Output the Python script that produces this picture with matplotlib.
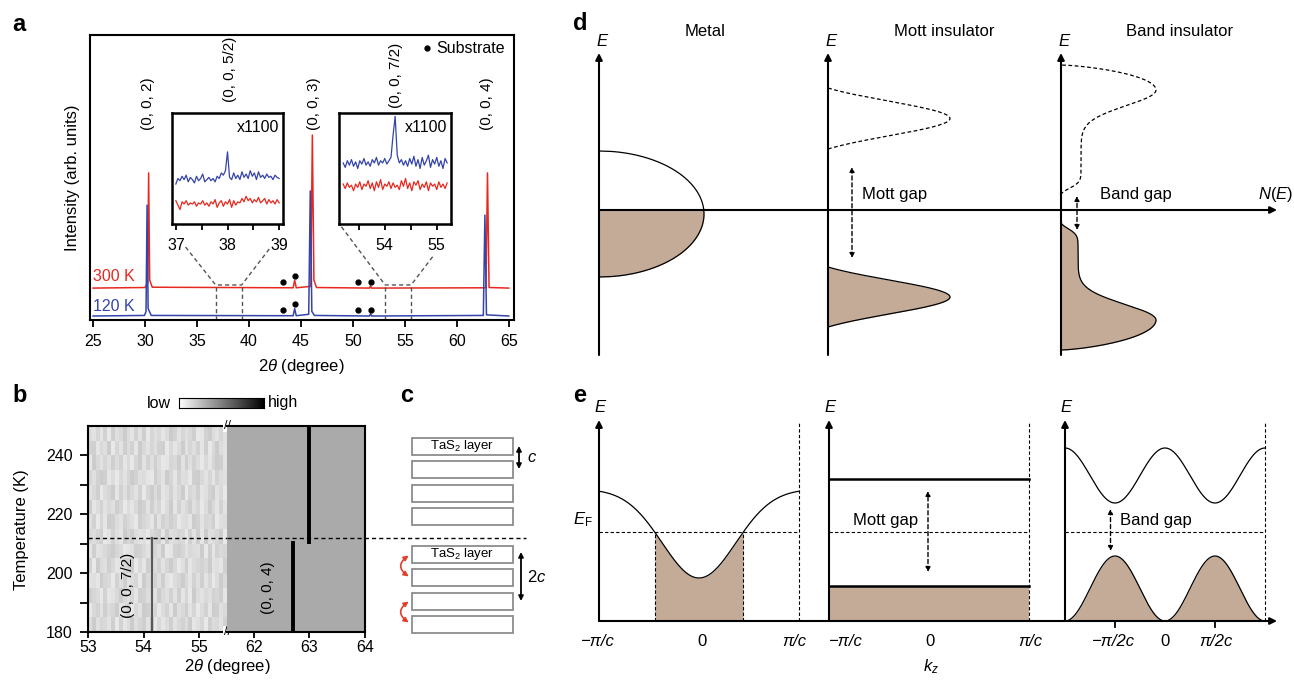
import numpy as np
import matplotlib
matplotlib.use('Agg')
import matplotlib.pyplot as plt
from matplotlib.patches import Rectangle, FancyArrowPatch

W, H = 1294, 689

plt.rcParams['font.family'] = ['Liberation Sans', 'DejaVu Sans']
plt.rcParams['mathtext.fontset'] = 'custom'
plt.rcParams['mathtext.rm'] = 'Liberation Sans'
plt.rcParams['mathtext.it'] = 'Liberation Sans:italic'
plt.rcParams['mathtext.bf'] = 'Liberation Sans:bold'

NS = 12          # text size of the schematic panels d and e
RED = '#e8281e'
BLUE = '#3444aa'
TAN = '#c3ab98'

# ---------------- data ----------------
# a: XRD scans (2theta in degree, normalised intensity)
red_x = [25.0, 30.0, 30.25, 30.35, 30.45, 30.7, 44.25, 44.4, 44.55, 45.95, 46.1,
         46.25, 46.5, 51.6, 51.7, 51.8, 62.8, 62.95, 63.1, 65.0]
red_y = [0.112, 0.114, 0.13, 0.516, 0.14, 0.115, 0.113, 0.14, 0.113, 0.118, 0.649,
         0.14, 0.114, 0.112, 0.12, 0.112, 0.113, 0.516, 0.114, 0.112]
blue_x = [25.0, 29.95, 30.1, 30.2, 30.3, 30.6, 44.25, 44.4, 44.55, 45.75, 45.9,
          46.05, 46.3, 51.6, 51.7, 51.8, 62.55, 62.7, 62.85, 65.0]
blue_y = [0.014, 0.016, 0.03, 0.403, 0.04, 0.016, 0.015, 0.04, 0.015, 0.02, 0.453,
          0.03, 0.016, 0.014, 0.022, 0.014, 0.016, 0.368, 0.018, 0.014]
peak_labels = ['(0, 0, 2)', '(0, 0, 5/2)', '(0, 0, 3)', '(0, 0, 7/2)', '(0, 0, 4)']
peak_label_x = [30.3, 38.2, 46.3, 54.1, 62.9]
peak_label_y = [0.76, 0.88, 0.76, 0.86, 0.76]
subs_x = [43.3, 44.4, 50.5, 51.7]
subs_dy = [0.021, 0.042, 0.021, 0.021]

# insets (x1100), 37-39 and 53.2-55.2 degree
in1_blue = [0.36, 0.41, 0.39, 0.43, 0.40, 0.44, 0.38, 0.42, 0.40, 0.37, 0.43, 0.39, 0.41,
            0.45, 0.38, 0.40, 0.42, 0.39, 0.41, 0.38, 0.43, 0.41, 0.46, 0.44, 0.48, 0.65,
            0.42, 0.40, 0.46, 0.41, 0.44, 0.40, 0.47, 0.42, 0.45, 0.41, 0.48, 0.43, 0.46,
            0.40, 0.47, 0.42, 0.44, 0.41, 0.45, 0.42, 0.43, 0.40, 0.44, 0.42, 0.41]
in1_red = [0.21, 0.17, 0.13, 0.20, 0.18, 0.21, 0.17, 0.19, 0.18, 0.20, 0.16, 0.19, 0.18,
           0.21, 0.17, 0.19, 0.16, 0.20, 0.18, 0.22, 0.15, 0.19, 0.21, 0.16, 0.20, 0.18,
           0.22, 0.15, 0.21, 0.17, 0.20, 0.19, 0.23, 0.20, 0.25, 0.21, 0.23, 0.19, 0.22,
           0.20, 0.24, 0.19, 0.21, 0.23, 0.18, 0.22, 0.19, 0.21, 0.18, 0.22, 0.19]
in2_blue = [0.55, 0.51, 0.57, 0.53, 0.58, 0.52, 0.56, 0.50, 0.57, 0.54, 0.59, 0.53, 0.56,
            0.52, 0.58, 0.55, 0.60, 0.53, 0.57, 0.55, 0.59, 0.54, 0.57, 0.60, 0.80, 0.97,
            0.62, 0.55, 0.58, 0.53, 0.57, 0.52, 0.59, 0.54, 0.61, 0.52, 0.58, 0.50, 0.60,
            0.53, 0.57, 0.62, 0.51, 0.58, 0.54, 0.60, 0.52, 0.57, 0.50, 0.59, 0.55]
in2_red = [0.36, 0.32, 0.37, 0.33, 0.35, 0.30, 0.36, 0.33, 0.38, 0.31, 0.36, 0.34, 0.39,
           0.32, 0.37, 0.30, 0.38, 0.33, 0.40, 0.31, 0.36, 0.34, 0.38, 0.32, 0.37, 0.33,
           0.35, 0.31, 0.39, 0.34, 0.41, 0.32, 0.37, 0.30, 0.38, 0.35, 0.39, 0.31, 0.36,
           0.33, 0.38, 0.30, 0.37, 0.34, 0.36, 0.31, 0.38, 0.33, 0.36, 0.32, 0.37]

# b: temperature map; background noise of the 53-55.5 window (digit = grey level)
hm_left_rows = [
    "506347192850631729485174250863915472",
    "942715308629470183952806417395280164",
    "135928740463812597046271839057462318",
    "768034926175390482617953048261739504",
    "290561487320948165273049618532407681",
    "817642035986124753609821374560918243",
    "453197268031576942180653492718065319",
    "629380157246913580724139658027341965",
    "085274613958402716395082741639504827",
    "741953082614729305186274093518620749",
    "362018594730265891470382659104738256",
    "904736152849307261598340716259483017",
    "218460937152804736219485073628194057",
    "573829164058271936485027364198205736",
]
T_c = 212
peak72_x = 54.15
p004_low_x = 62.7
p004_high_x = 63.0

# d: density of states (E, N) for each state
metal_dos = [-0.04, 0.63, 1.05]          # centre, half height, max N
mott_upper = [0.915, 0.305, 1.22]
mott_lower = [-0.87, 0.30, 1.22]
band_upper = [0.15, 1.20, 1.45, 0.20, 0.95]    # gap edge, peak E, band end, shoulder N, peak N
band_lower = [-0.12, -1.10, -1.40, 0.17, 0.95]

# e: dispersions, k in units of pi/c
e_fermi = 0.89
metal_band = [1.32, 0.89, 0.52]          # top, depth, width
mott_levels = [1.42, 0.35]
band_up = [1.455, 0.275]                 # mean, amplitude
band_lo = [0.325]                        # half height

# ---------------- figure ----------------
fig = plt.figure(figsize=(W / 100, H / 100), dpi=100)


def px_axes(x0, y0, x1, y1):
    return fig.add_axes([x0 / W, 1 - y1 / H, (x1 - x0) / W, (y1 - y0) / H])


def fig_text(x, y, s, **kw):
    return fig.text(x / W, 1 - y / H, s, **kw)


# ----- a -----
axa = px_axes(89.6, 35, 513.9, 320)
axa.plot(red_x, red_y, color=RED, lw=1.1)
axa.plot(blue_x, blue_y, color=BLUE, lw=1.1)
for base in (red_y[0], blue_y[0]):
    axa.plot(subs_x, np.array(subs_dy) + base, 'o', color='k', ms=3.5)
axa.set_xlim(24.67, 65.49)
axa.set_ylim(0, 1)
axa.set_yticks([])
axa.set_xticks(range(25, 66, 5))
axa.tick_params(axis='x', direction='out', length=5, width=1.3, pad=5, labelsize=11.5)
for sp in axa.spines.values():
    sp.set_linewidth(1.5)
for s, x, y in zip(peak_labels, peak_label_x, peak_label_y):
    axa.text(x, y, s, rotation=90, ha='center', va='center', fontsize=11)
axa.plot([57.1], [0.954], 'o', color='k', ms=3.5)
axa.text(58.0, 0.954, 'Substrate', va='center', fontsize=11.5)
axa.text(25.0, 0.151, '300 K', color=RED, va='center', fontsize=11.5)
axa.text(25.0, 0.049, '120 K', color=BLUE, va='center', fontsize=11.5)
dash = dict(ls=(0, (3, 2.2)), color='#555555', lw=1, clip_on=False)
axa.plot([33.9, 36.8, 39.3, 42.1], [0.256, 0.123, 0.123, 0.256], **dash)
axa.plot([48.9, 53.1, 55.6, 57.8], [0.327, 0.123, 0.123, 0.228], **dash)
for x in (36.8, 39.3, 53.1, 55.6):
    axa.plot([x, x], [0, 0.123], **dash)
fig_text(301, 366, r'$\mathit{2\theta}$ (degree)', ha='center', va='center', fontsize=12)
fig_text(72.7, 178, 'Intensity (arb. units)', rotation=90, ha='center', va='center', fontsize=12)

for box, xs, blue, red, lim, major, minor in [
        ((171.7, 113, 283.3, 224), (37.0, 39.0), in1_blue, in1_red, (36.92, 39.08), [37, 38, 39], [37.5, 38.5]),
        ((339.0, 113, 451.3, 224), (53.2, 55.2), in2_blue, in2_red, (53.12, 55.28), [54, 55], [53.5, 54.5])]:
    axi = px_axes(*box)
    xv = np.linspace(xs[0], xs[1], len(blue))
    axi.plot(xv, blue, color=BLUE, lw=0.9)
    axi.plot(xv, red, color=RED, lw=0.9)
    axi.set_xlim(*lim)
    axi.set_ylim(0, 1)
    axi.set_yticks([])
    axi.set_xticks(major)
    axi.set_xticks(minor, minor=True)
    axi.tick_params(which='both', direction='out', length=4, width=1.3, pad=6, labelsize=11.5)
    for sp in axi.spines.values():
        sp.set_linewidth(1.8)
    axi.text(0.96, 0.94, 'x1100', transform=axi.transAxes, ha='right', va='top', fontsize=11.5)

# ----- b -----
axb1 = px_axes(88, 426, 227, 632)
axb2 = px_axes(227, 426, 365, 632)
grey = np.array([[0.80 + 0.012 * int(c) for c in row] for row in hm_left_rows])
axb1.imshow(grey, cmap='gray', vmin=0, vmax=1, extent=[53, 55.5, 180, 250],
            aspect='auto', interpolation='nearest', origin='lower')
axb1.plot([peak72_x, peak72_x], [180, T_c], color='#5a5a5a', lw=1.6)
axb2.set_facecolor('#aaaaaa')
axb2.plot([p004_low_x, p004_low_x], [180, 211], color='k', lw=2.8, solid_capstyle='butt')
axb2.plot([p004_high_x, p004_high_x], [210, 250], color='k', lw=2.8, solid_capstyle='butt')
axb1.axhline(T_c, ls=(0, (3, 2.2)), color='k', lw=1)
axb2.plot([61.52, 66.9], [T_c, T_c], ls=(0, (3, 2.2)), color='k', lw=1, clip_on=False)
axb1.set_xlim(53, 55.5)
axb2.set_xlim(61.52, 64)
for ax in (axb1, axb2):
    ax.set_ylim(180, 250)
    for sp in ax.spines.values():
        sp.set_linewidth(1.5)
    ax.tick_params(which='both', direction='out', length=4, width=1.3, pad=2, labelsize=11.5)
axb1.spines['right'].set_visible(False)
axb2.spines['left'].set_visible(False)
axb1.set_xticks([53, 54, 55])
axb2.set_xticks([62, 63, 64])
axb2.set_yticks([])
axb1.set_yticks([180, 200, 220, 240])
axb1.set_yticks([190, 210, 230], minor=True)
axb1.tick_params(axis='y', which='both', length=6, pad=5)
for yy in (1, 0):
    axb1.text(1, yy, '//', transform=axb1.transAxes, ha='center', va='center', fontsize=9,
              bbox=dict(fc='white', ec='none', pad=0.2), zorder=10, clip_on=False)
axb1.text(53.72, 196, '(0, 0, 7/2)', rotation=90, ha='center', va='center', fontsize=11)
axb2.text(62.25, 195, '(0, 0, 4)', rotation=90, ha='center', va='center', fontsize=11)
fig_text(227, 667, r'$\mathit{2\theta}$ (degree)', ha='center', va='center', fontsize=12)
fig_text(22, 530, 'Temperature (K)', rotation=90, ha='center', va='center', fontsize=12)
cax = px_axes(179, 398, 264, 408)
cax.imshow(np.linspace(0, 1, 256)[None, :], cmap='gray_r', aspect='auto', extent=[0, 1, 0, 1])
cax.set_xticks([])
cax.set_yticks([])
for sp in cax.spines.values():
    sp.set_linewidth(0.8)
fig_text(171, 403, 'low', ha='right', va='center', fontsize=11.5)
fig_text(268, 403, 'high', ha='left', va='center', fontsize=11.5)

# ----- c -----
axc = px_axes(390, 385, 570, 650)
axc.set_xlim(390, 570)
axc.set_ylim(650, 385)
axc.axis('off')
for top0 in (438, 546):
    for i in range(4):
        t = top0 + i * 23.3
        axc.add_patch(Rectangle((412, t), 101, 17, fc='white', ec='#8c8c8c', lw=1.3))
    axc.text(462, top0 + 8.5, r'TaS$_2$ layer', ha='center', va='center', fontsize=9.5)
axc.annotate('', xy=(519, 446), xytext=(519, 469),
             arrowprops=dict(arrowstyle='<|-|>', lw=1.3, color='k', mutation_scale=7, shrinkA=0, shrinkB=0))
axc.text(527, 458, '$c$', ha='left', va='center', fontsize=12)
axc.annotate('', xy=(521, 552), xytext=(521, 601),
             arrowprops=dict(arrowstyle='<|-|>', lw=1.3, color='k', mutation_scale=7, shrinkA=0, shrinkB=0))
axc.text(527, 577, '2$c$', ha='left', va='center', fontsize=12)
for ya, yb in ((554, 578), (600, 624)):
    axc.add_patch(FancyArrowPatch((411, ya), (411, yb), connectionstyle='arc3,rad=0.8',
                                  arrowstyle='<|-|>', mutation_scale=7, lw=1.2, color='#e0402c'))

# ----- d -----
axd = px_axes(590, 15, 1294, 360)
axd.set_xlim(-0.09, 6.95)
axd.set_ylim(-1.5, 1.95)
axd.axis('off')
d_x0 = [0, 2.29, 4.62]
arrow = dict(arrowstyle='-|>', lw=1.5, color='k', mutation_scale=10, shrinkA=0, shrinkB=0)
gap_arrow = dict(arrowstyle='<|-|>', lw=1, ls=(0, (3, 2)), color='k', mutation_scale=7, shrinkA=0, shrinkB=0)
for x0, title, tx in zip(d_x0, ['Metal', 'Mott insulator', 'Band insulator'], [1.06, 3.45, 5.81]):
    axd.annotate('', xy=(x0, 1.57), xytext=(x0, -1.45), arrowprops=arrow)
    axd.text(x0 + 0.03, 1.68, 'E', style='italic', fontsize=NS, ha='center', va='center')
    axd.text(tx, 1.78, title, fontsize=NS, ha='center', va='center')
axd.annotate('', xy=(6.78, 0), xytext=(0, 0), arrowprops=arrow)
axd.text(6.94, 0.15, '$N$($E$)', fontsize=NS, ha='right', va='center')


def trunc_gauss(u, s=0.8):
    g0 = np.exp(-1 / s ** 2)
    return (np.exp(-(u / s) ** 2) - g0) / (1 - g0)


# metal
c, h, a = metal_dos
E = np.linspace(c - h, c + h, 300)
N = a * np.sqrt(np.clip(1 - ((E - c) / h) ** 2, 0, None))
x0 = d_x0[0]
m = E <= 0
axd.fill_betweenx(E[m], x0, x0 + N[m], color=TAN, lw=0)
axd.plot(x0 + N, E, color='k', lw=0.9)
# Mott
x0 = d_x0[1]
for (c, h, a), filled in ((mott_upper, False), (mott_lower, True)):
    E = np.linspace(c - h, c + h, 300)
    N = a * trunc_gauss((E - c) / h)
    if filled:
        axd.fill_betweenx(E, x0, x0 + N, color=TAN, lw=0)
        axd.plot(x0 + N, E, color='k', lw=0.9)
    else:
        axd.plot(x0 + N, E, color='k', lw=0.9, ls=(0, (3, 2)))
axd.annotate('', xy=(x0 + 0.24, 0.43), xytext=(x0 + 0.24, -0.48), arrowprops=gap_arrow)
axd.text(x0 + 0.34, 0.15, 'Mott gap', fontsize=NS, ha='left', va='center')
# band insulator
x0 = d_x0[2]
for (edge, Ep, end, sh, Np), filled in ((band_upper, False), (band_lower, True)):
    E = np.linspace(edge, end, 400)
    sg = np.sign(Ep - edge)
    d = sg * (E - edge)
    dp = sg * (E - Ep)
    L = abs(end - Ep)
    near = sh * (1 - np.exp(-(d / 0.09) ** 2)) + (Np - sh) * np.exp(-(dp / 0.22) ** 2)
    far = Np * np.clip(1 - (dp / L) ** 2, 0, None) ** 0.7
    N = np.where(dp <= 0, near, far)
    if filled:
        axd.fill_betweenx(E, x0, x0 + N, color=TAN, lw=0)
        axd.plot(x0 + N, E, color='k', lw=0.9)
    else:
        axd.plot(x0 + N, E, color='k', lw=0.9, ls=(0, (3, 2)))
axd.annotate('', xy=(x0 + 0.16, 0.14), xytext=(x0 + 0.16, -0.20), arrowprops=gap_arrow)
axd.text(x0 + 0.39, 0.15, 'Band gap', fontsize=NS, ha='left', va='center')

# ----- e -----
axe = px_axes(560, 395, 1294, 680)
axe.set_xlim(-0.39, 6.95)
axe.set_ylim(-0.59, 2.26)
axe.axis('off')
e_x0 = [0, 2.30, 4.66]
k = np.linspace(-1, 1, 600)
edash = dict(ls=(0, (3, 2)), color='k', lw=0.8)
for x0 in e_x0:
    axe.annotate('', xy=(x0, 2.01), xytext=(x0, 0), arrowprops=arrow)
    axe.text(x0 + 0.01, 2.13, 'E', style='italic', fontsize=NS, ha='center', va='center')
    axe.plot([x0 + 2, x0 + 2], [0, 1.99], **edash)
    axe.plot([x0, x0 + 2], [e_fermi, e_fermi], **edash)
axe.annotate('', xy=(6.78, 0), xytext=(0, 0), arrowprops=arrow)
xk = k + 1
# metal
x0 = e_x0[0]
top, depth, wid = metal_band
Ek = top - depth * np.exp(-(k / wid) ** 2)
m = Ek <= e_fermi
axe.fill_between(x0 + xk[m], 0, Ek[m], color=TAN, lw=0)
axe.plot([x0 + xk[m][0]] * 2, [0, e_fermi], **edash)
axe.plot([x0 + xk[m][-1]] * 2, [0, e_fermi], **edash)
axe.plot(x0 + xk, Ek, color='k', lw=0.9)
# Mott
x0 = e_x0[1]
axe.fill_between([x0, x0 + 2], 0, mott_levels[1], color=TAN, lw=0)
for lev in mott_levels:
    axe.plot([x0, x0 + 2], [lev, lev], color='k', lw=1.8)
axe.annotate('', xy=(x0 + 0.99, 1.30), xytext=(x0 + 0.99, 0.49), arrowprops=gap_arrow)
axe.text(x0 + 0.57, 1.01, 'Mott gap', fontsize=NS, ha='center', va='center')
# band insulator
x0 = e_x0[2]
Eu = band_up[0] + band_up[1] * np.cos(2 * np.pi * k)
El = band_lo[0] * (1 - np.cos(2 * np.pi * k))
axe.fill_between(x0 + xk, 0, El, color=TAN, lw=0)
axe.plot(x0 + xk, El, color='k', lw=0.9)
axe.plot(x0 + xk, Eu, color='k', lw=0.9)
axe.plot([x0 + 0.5, x0 + 0.5], [-0.06, 0], color='k', lw=1.3)
axe.plot([x0 + 1.5, x0 + 1.5], [-0.06, 0], color='k', lw=1.3)
axe.annotate('', xy=(x0 + 0.455, 1.12), xytext=(x0 + 0.455, 0.70), arrowprops=gap_arrow)
axe.text(x0 + 0.545, 1.01, 'Band gap', fontsize=NS, ha='left', va='center')
# k labels
klab = [(-0.01, '\u2212\u03c0/c'), (1.03, '0'), (1.95, '\u03c0/c'),
        (2.47, '\u2212\u03c0/c'), (3.31, '0'), (4.31, '\u03c0/c'),
        (5.15, '\u2212\u03c0/2c'), (5.66, '0'), (6.17, '\u03c0/2c')]
for x, s in klab:
    axe.text(x, -0.20, s, fontsize=NS, ha='center', va='center',
             style='normal' if s == '0' else 'italic')
axe.text(3.32, -0.46, '$k_z$', fontsize=NS, ha='center', va='center')
axe.text(-0.16, 1.01, r'$E_\mathrm{F}$', fontsize=NS, ha='center', va='center')

# panel letters
for s, x, y in (('a', 12, 31), ('b', 12, 402), ('c', 400, 402), ('d', 573, 30), ('e', 573, 402)):
    fig_text(x, y, s, fontsize=17, fontweight='bold', va='baseline', ha='left')

fig.savefig('out.png', dpi=100)
